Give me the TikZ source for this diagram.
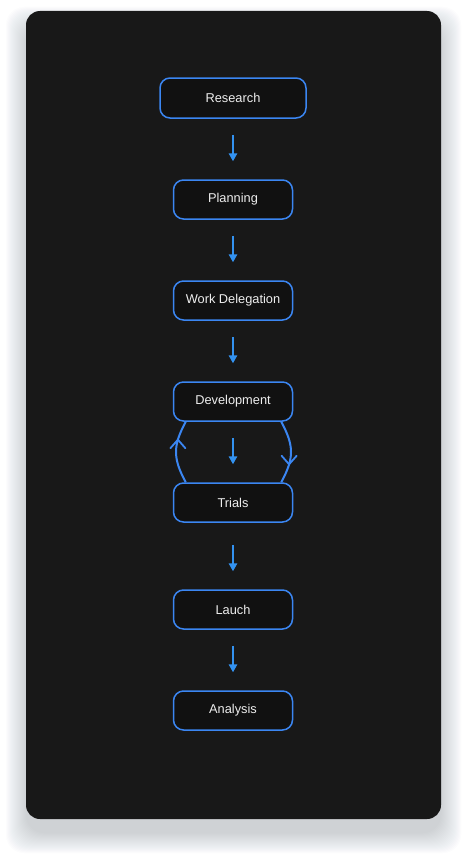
\documentclass[tikz,border=0pt]{standalone}
\usepackage{fontspec}
\setmainfont{Liberation Sans}
\usetikzlibrary{arrows.meta,calc}
\definecolor{cardbg}{HTML}{181818}
\definecolor{nodebg}{HTML}{111111}
\definecolor{accent}{HTML}{3B86F2}
\definecolor{arrowc}{HTML}{3392F0}
\definecolor{txt}{HTML}{EEEEEE}
\definecolor{shadowc}{HTML}{6E7890}
\begin{document}
\begin{tikzpicture}[x=1pt,y=1pt,
  stepbox/.style={draw=accent, line width=1.5pt, fill=nodebg, rounded corners=10pt,
    minimum width=119pt, minimum height=39pt, text=txt, inner sep=0pt,
    font=\fontsize{12.8}{15}\selectfont},
  flow/.style={draw=arrowc, line width=1.5pt, -{Triangle[length=8pt,width=8.5pt]},
    shorten <=16pt, shorten >=18pt},
  loopc/.style={draw=accent, line width=2pt},
  chev/.style={draw=accent, line width=1.8pt, line cap=round, line join=miter},
]
\useasboundingbox (0,0) rectangle (467,-859);
\fill[white] (0,0) rectangle (467,-859);
\foreach \s in {0,1,...,20}{
  \fill[shadowc, opacity=0.014, rounded corners=18pt] (26-\s,-27+\s) rectangle (441+\s,-833-\s);
}
\fill[cardbg, rounded corners=14pt] (26,-11) rectangle (441,-819);

\node[stepbox, minimum width=146pt, minimum height=40pt] (res) at (233,-98) {Research};
\node[stepbox] (plan) at (233,-199.5) {Planning};
\node[stepbox] (work) at (233,-300.5) {Work Delegation};
\node[stepbox] (dev) at (233,-401.5) {Development};
\node[stepbox] (tri) at (233,-502.5) {Trials};
\node[stepbox] (lau) at (233,-609.5) {Lauch};
\node[stepbox] (ana) at (233,-710.5) {Analysis};

\draw[flow] (res) -- (plan);
\draw[flow] (plan) -- (work);
\draw[flow] (work) -- (dev);
\draw[flow] (dev) -- (tri);
\draw[flow, shorten <=22pt] (tri) -- (lau);
\draw[flow] (lau) -- (ana);

\coordinate (lb) at ([xshift=13pt]tri.north west);
\coordinate (lt) at ([xshift=13pt]dev.south west);
\coordinate (rt) at ([xshift=-12pt]dev.south east);
\coordinate (rb) at ([xshift=-12pt]tri.north east);
\draw[loopc] (lb) .. controls +(-13,24) and +(-13,-24) .. coordinate[pos=0.72] (la) (lt);
\draw[loopc] (rt) .. controls +(13,-24) and +(13,24) .. coordinate[pos=0.72] (ra) (rb);
\draw[chev] ([shift={(-7.5,-8.5)}]la) -- (la) -- ([shift={(7.5,-8.5)}]la);
\draw[chev] ([shift={(-7.5,8.5)}]ra) -- (ra) -- ([shift={(7.5,8.5)}]ra);
\end{tikzpicture}
\end{document}
